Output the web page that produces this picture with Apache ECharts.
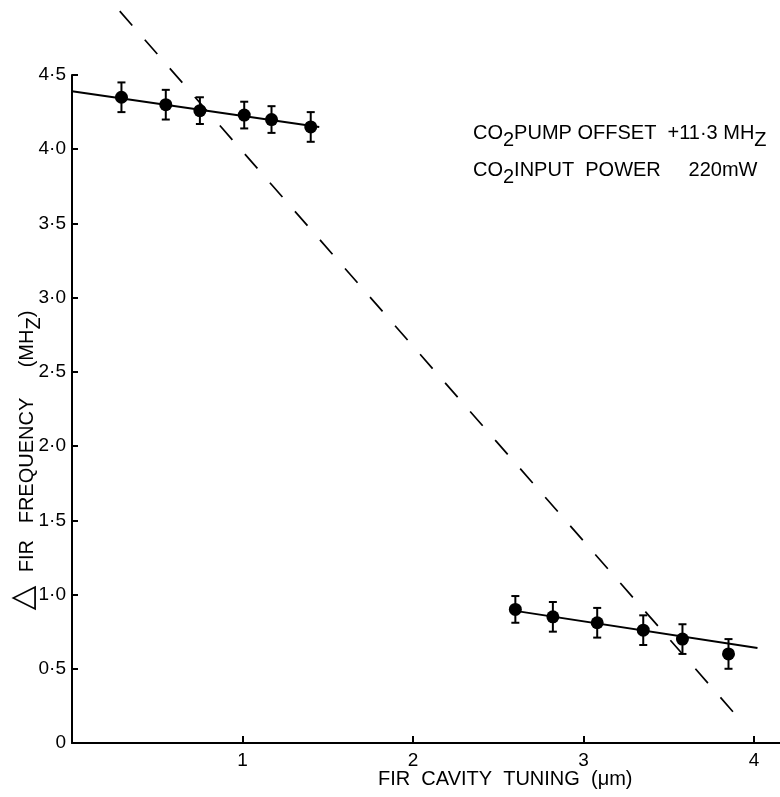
<!DOCTYPE html>
<html>
<head>
<meta charset="utf-8">
<script src="https://cdn.jsdelivr.net/npm/echarts@6/dist/echarts.min.js"></script>
<style>
html,body{margin:0;padding:0;background:#fff;}
#chart{width:780px;height:797px;}
</style>
</head>
<body>
<div id="chart"></div>
<script>
// ---- data ----
const xUpper = [0.29, 0.55, 0.75, 1.01, 1.17, 1.40];
const yUpper = [4.35, 4.30, 4.26, 4.23, 4.20, 4.15];
const eUpper = [0.10, 0.10, 0.09, 0.09, 0.09, 0.10];
const xLower = [2.60, 2.82, 3.08, 3.35, 3.58, 3.85];
const yLower = [0.90, 0.85, 0.81, 0.76, 0.70, 0.60];
const eLower = [0.09, 0.10, 0.10, 0.10, 0.10, 0.10];
const fitUpper = [[0, 4.39], [1.45, 4.15]];
const fitLower = [[2.60, 0.89], [4.02, 0.64]];
const dashedLine = [[0.28, 4.93], [3.93, 0.14]];
const xTicks = [1, 2, 3, 4];

const FONT = '"Liberation Sans Narrow", "Liberation Sans", Arial, sans-serif';
const pts = (xs, ys) => xs.map((x, i) => [x, ys[i]]);
const errs = (xs, ys, es) => xs.map((x, i) => [x, ys[i], es[i]]);

function errRender(params, api) {
  const x = api.value(0), y = api.value(1), e = api.value(2);
  const top = api.coord([x, y + e]);
  const bot = api.coord([x, y - e]);
  const w = 4;
  const st = {stroke: '#000', lineWidth: 2};
  return {type: 'group', children: [
    {type: 'line', shape: {x1: top[0], y1: top[1], x2: bot[0], y2: bot[1]}, style: st},
    {type: 'line', shape: {x1: top[0]-w, y1: top[1], x2: top[0]+w, y2: top[1]}, style: st},
    {type: 'line', shape: {x1: bot[0]-w, y1: bot[1], x2: bot[0]+w, y2: bot[1]}, style: st}
  ]};
}

const sub = {fontFamily: FONT, fontSize: 20, fill: '#000', padding: [15, 0, 0, 0]};
const reg = {fontFamily: FONT, fontSize: 20, fill: '#000'};

const chart = echarts.init(document.getElementById('chart'), null, {renderer: 'canvas'});
const option = {
  backgroundColor: '#fff',
  animation: false,
  grid: {left: 72, right: 0, top: 75, bottom: 54},
  xAxis: {
    type: 'value', min: 0, max: 4.152,
    axisLine: {lineStyle: {color: '#000', width: 2}},
    axisTick: {inside: true, length: 7, customValues: xTicks, lineStyle: {color: '#000', width: 2}},
    axisLabel: {customValues: xTicks, color: '#000', fontFamily: FONT, fontSize: 19, margin: 8},
    splitLine: {show: false}
  },
  yAxis: {
    type: 'value', min: 0, max: 4.5, interval: 0.5,
    axisLine: {show: true, lineStyle: {color: '#000', width: 2}},
    axisTick: {show: true, inside: true, length: 6, lineStyle: {color: '#000', width: 2}},
    axisLabel: {color: '#000', fontFamily: FONT, fontSize: 19, margin: 6,
      formatter: v => v === 0 ? '0' : v.toFixed(1).replace('.', '\u00B7')},
    splitLine: {show: false}
  },
  series: [
    {type: 'line', data: dashedLine, symbol: 'none', clip: false,
     lineStyle: {color: '#000', width: 1.7, type: [19, 19]}},
    {type: 'line', data: fitUpper, symbol: 'none', lineStyle: {color: '#000', width: 2}},
    {type: 'line', data: fitLower, symbol: 'none', lineStyle: {color: '#000', width: 2}},
    {type: 'custom', renderItem: errRender, data: errs(xUpper, yUpper, eUpper)},
    {type: 'custom', renderItem: errRender, data: errs(xLower, yLower, eLower)},
    {type: 'scatter', data: pts(xUpper, yUpper), symbol: 'circle', symbolSize: 13, itemStyle: {color: '#000', opacity: 1}},
    {type: 'scatter', data: pts(xLower, yLower), symbol: 'circle', symbolSize: 13, itemStyle: {color: '#000', opacity: 1}}
  ],
  graphic: [
    {type: 'text', left: 378, top: 769, style: {
      text: 'FIR  CAVITY  TUNING  (\u03BCm)', fill: '#000', font: '20px ' + FONT}},
    {type: 'text', x: 473, y: 133, style: {
      text: '{a|CO}{s|2}{a|PUMP OFFSET  +11\u00B73 MH}{s|Z}',
      verticalAlign: 'middle', rich: {a: reg, s: sub}}},
    {type: 'text', x: 473, y: 170, style: {
      text: '{a|CO}{s|2}{a|INPUT  POWER     220mW}',
      verticalAlign: 'middle', rich: {a: reg, s: sub}}},
    {type: 'text', x: 24, y: 598, rotation: Math.PI / 2, style: {
      text: '\u25B3', fill: '#000', font: '32px "DejaVu Sans"', align: 'center', verticalAlign: 'middle'}},
    {type: 'text', x: 27, y: 485, rotation: Math.PI / 2, style: {
      text: 'FIR   FREQUENCY', fill: '#000', font: '20px ' + FONT, align: 'center', verticalAlign: 'middle'}},
    {type: 'text', x: 27, y: 339, rotation: Math.PI / 2, style: {
      text: '{a|(MH}{s|Z}{a|)}', align: 'center', verticalAlign: 'middle', rich: {a: reg, s: sub}}}
  ]
};
chart.setOption(option);
</script>
</body>
</html>
